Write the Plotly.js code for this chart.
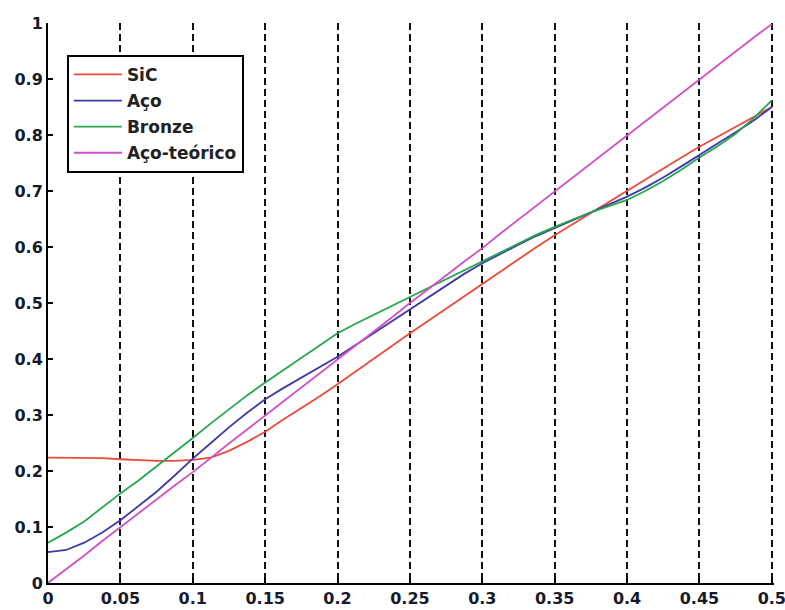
<!DOCTYPE html>
<html>
<head>
<meta charset="utf-8">
<script src="https://cdn.plot.ly/plotly-3.0.1.min.js"></script>
<style>body{margin:0;background:#fff}</style>
</head>
<body>
<div id="chart" style="width:785px;height:610px"></div>
<script>
const xVals = [0,0.0125,0.025,0.0375,0.05,0.0625,0.075,0.0875,0.1,0.1125,0.125,0.1375,0.15,0.1625,0.175,0.1875,0.2,0.2125,0.225,0.2375,0.25,0.2625,0.275,0.2875,0.3,0.3125,0.325,0.3375,0.35,0.3625,0.375,0.3875,0.4,0.4125,0.425,0.4375,0.45,0.4625,0.475,0.4875,0.5];
const sic = [0.224,0.224,0.224,0.223,0.221,0.219,0.218,0.218,0.220,0.224,0.236,0.252,0.270,0.292,0.312,0.333,0.355,0.378,0.400,0.423,0.446,0.468,0.490,0.512,0.535,0.556,0.578,0.600,0.621,0.641,0.661,0.681,0.700,0.720,0.740,0.760,0.779,0.797,0.815,0.833,0.850];
const aco = [0.055,0.059,0.072,0.090,0.112,0.137,0.163,0.192,0.222,0.250,0.278,0.304,0.328,0.348,0.367,0.386,0.404,0.425,0.446,0.467,0.488,0.510,0.531,0.552,0.571,0.588,0.604,0.620,0.634,0.648,0.662,0.676,0.690,0.706,0.724,0.744,0.765,0.785,0.805,0.826,0.850];
const bronze = [0.072,0.090,0.110,0.135,0.160,0.183,0.208,0.234,0.259,0.285,0.310,0.335,0.358,0.380,0.402,0.424,0.446,0.463,0.479,0.495,0.511,0.527,0.543,0.559,0.575,0.591,0.607,0.622,0.636,0.649,0.662,0.673,0.684,0.700,0.718,0.738,0.760,0.780,0.802,0.830,0.862];
const acoTeorico = [0,0.024,0.049,0.075,0.100,0.124,0.149,0.174,0.198,0.224,0.249,0.274,0.299,0.324,0.349,0.374,0.398,0.424,0.449,0.474,0.500,0.524,0.549,0.574,0.598,0.624,0.649,0.674,0.699,0.724,0.749,0.774,0.800,0.824,0.849,0.874,0.899,0.924,0.949,0.974,0.998];
const xTickVals = [0,0.05,0.1,0.15,0.2,0.25,0.3,0.35,0.4,0.45,0.5];
const xTickText = ["0","0.05","0.1","0.15","0.2","0.25","0.3","0.35","0.4","0.45","0.5"];
const seriesNames = ["SiC","Aço","Bronze","Aço-teórico"];
const seriesColors = ["#ee4a3a","#3c3ca6","#26a64e","#d24fc6"];
const seriesData = [sic, aco, bronze, acoTeorico];

const traces = seriesData.map((ys, i) => ({
  x: xVals, y: ys, type: "scatter", mode: "lines",
  name: seriesNames[i], legendgroup: "g" + i,
  line: {color: seriesColors[i], width: 1.8}
}));

const tickFont = {family: "DejaVu Sans", size: 16, weight: "bold", color: "#161a2a"};
const layout = {
  width: 785, height: 610,
  margin: {l: 48, r: 11, t: 23, b: 27},
  paper_bgcolor: "#fff", plot_bgcolor: "#fff",
  showlegend: true,
  legend: {
    x: 0.026, y: 0.943, xanchor: "left", yanchor: "top",
    bgcolor: "#fff", bordercolor: "#000", borderwidth: 2,
    font: {family: "DejaVu Sans", size: 17, weight: "bold", color: "#222"},
    tracegroupgap: 1, itemwidth: 48
  },
  xaxis: {
    range: [0, 0.5015], tickmode: "array", tickvals: xTickVals, ticktext: xTickText,
    ticklabeloverflow: "allow",
    showline: true, linecolor: "#000", linewidth: 2,
    ticks: "inside", ticklen: 5, tickwidth: 2, tickcolor: "#000",
    showgrid: true, gridcolor: "#111", gridwidth: 2, griddash: "7px,4px",
    zeroline: false, tickfont: tickFont
  },
  yaxis: {
    range: [0, 1.0000001], dtick: 0.1, tick0: 0,
    showline: true, linecolor: "#000", linewidth: 2,
    ticks: "inside", ticklen: 5, tickwidth: 2, tickcolor: "#000",
    showgrid: false, zeroline: false, tickfont: tickFont
  }
};
Plotly.newPlot("chart", traces, layout, {displayModeBar: false, staticPlot: true});
</script>
</body>
</html>
